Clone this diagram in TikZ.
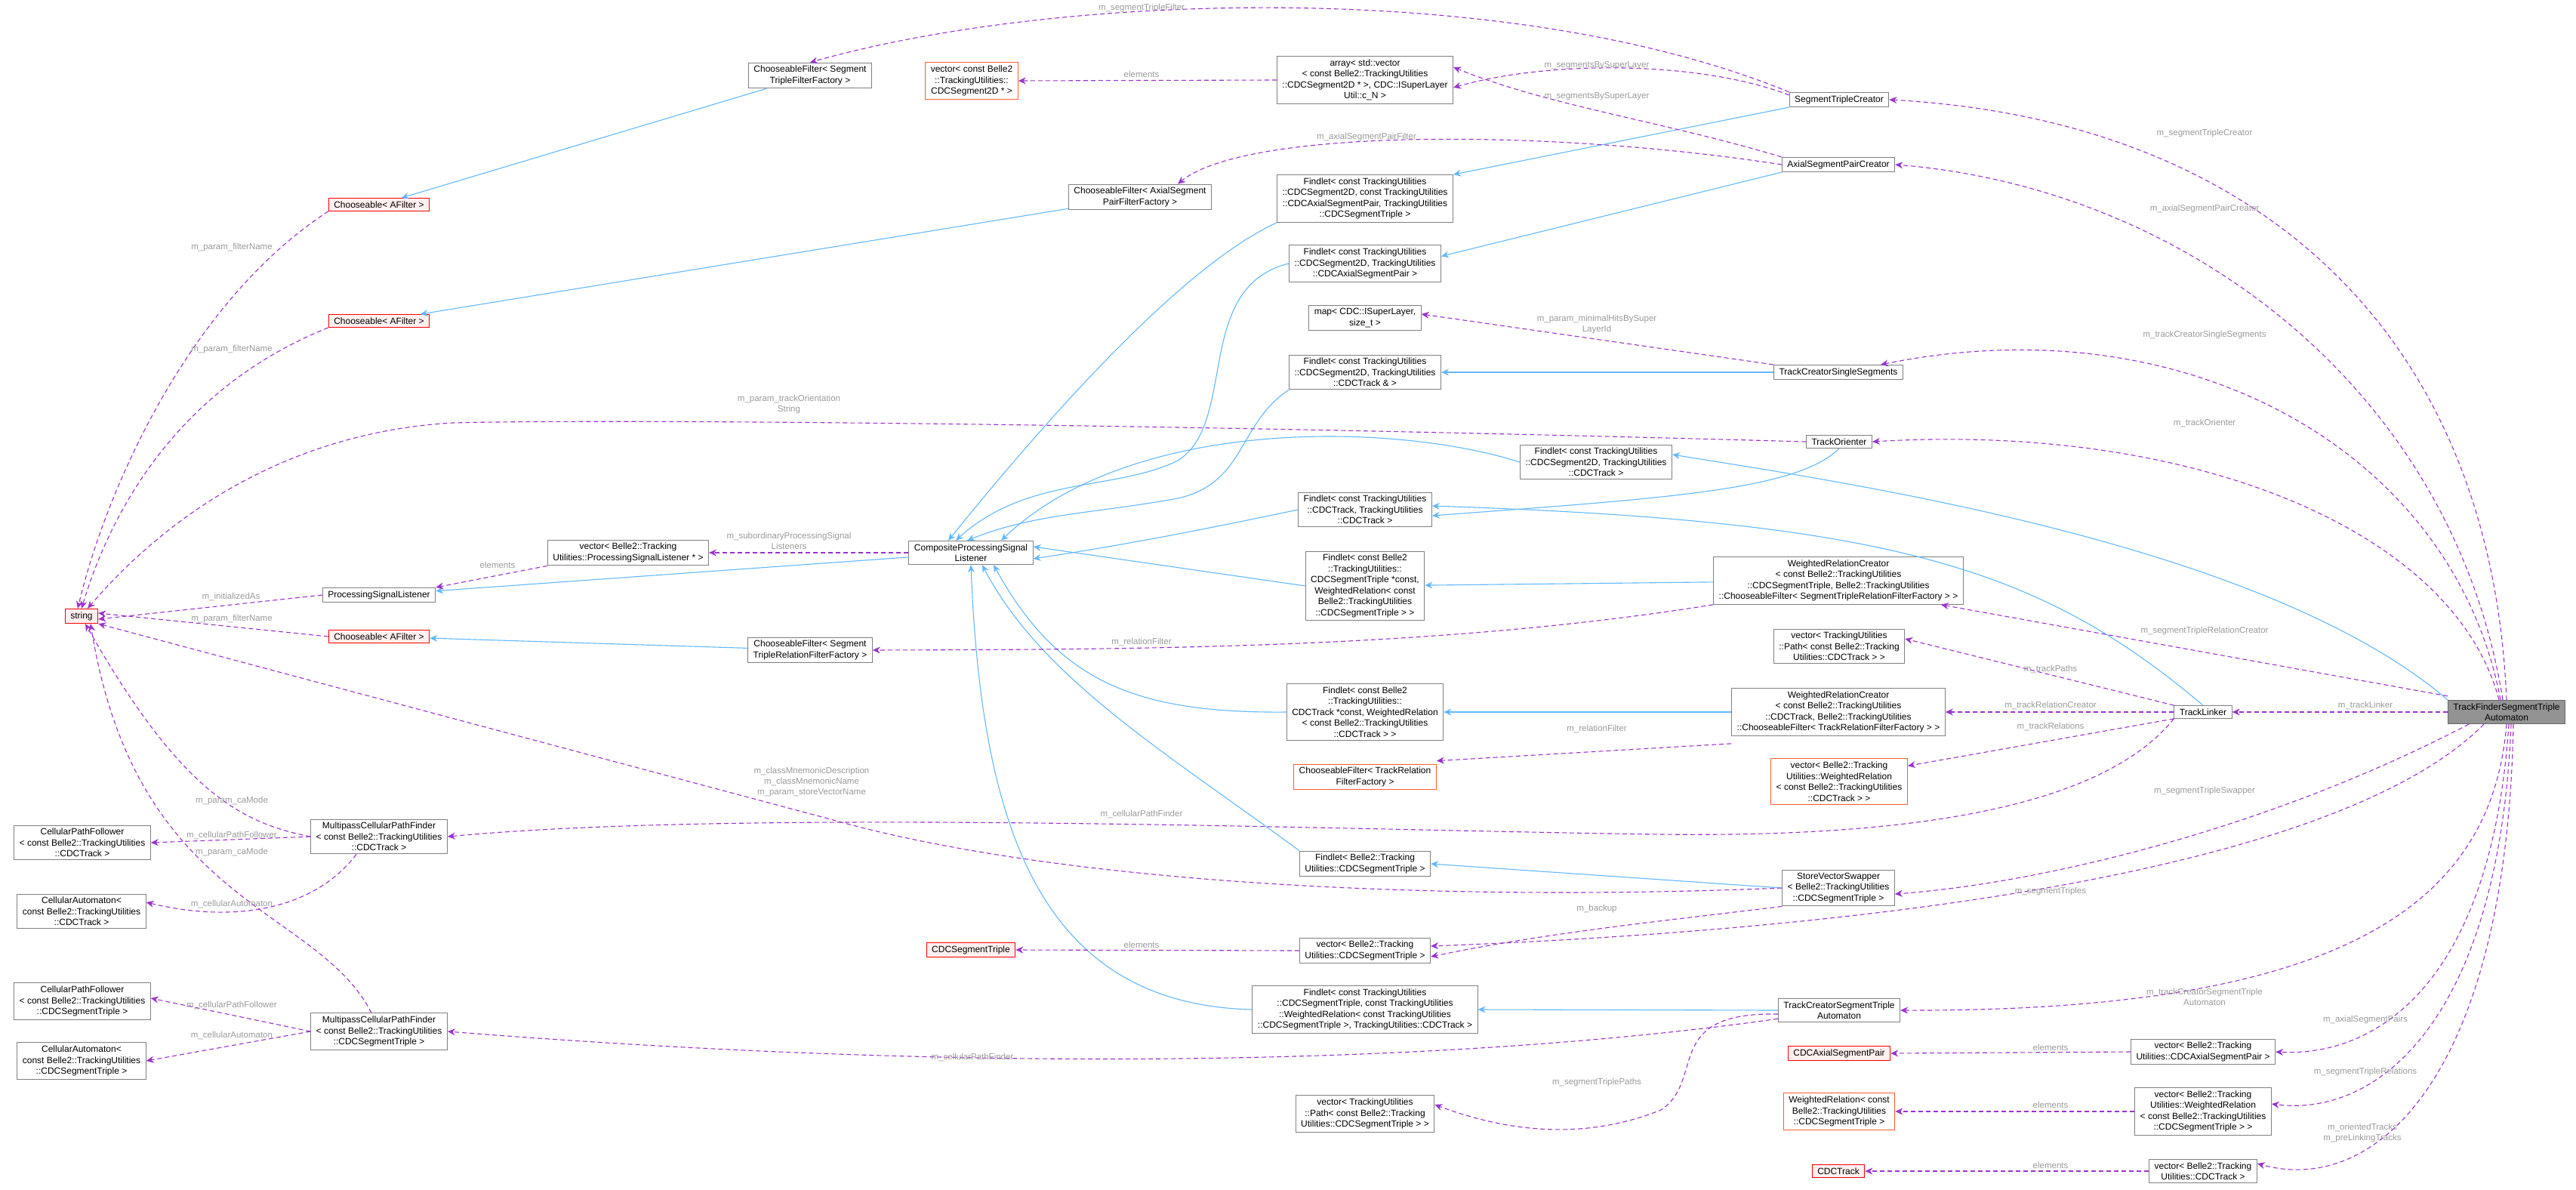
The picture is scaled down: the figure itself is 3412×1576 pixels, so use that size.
\documentclass[tikz,border=0pt]{standalone}
\usepackage{fontspec}
\setmainfont{Liberation Sans}
\usetikzlibrary{arrows.meta, positioning}
\definecolor{inhblue}{HTML}{63B8FF}
\definecolor{usepurple}{HTML}{9A32CD}
\definecolor{lblgray}{HTML}{9A9A9A}
\definecolor{boxgray}{HTML}{808080}
\definecolor{redfill}{HTML}{FFF0F0}
\definecolor{orangeline}{HTML}{FF5E2E}

\begin{document}
\begin{tikzpicture}[
    x=1pt, y=-1pt,
    klass/.style={rectangle, draw=boxgray, line width=1pt, fill=white, align=center,
        inner xsep=7pt, inner ysep=4pt, font=\fontsize{12}{14.5}\selectfont},
    missing/.style={klass, draw=red, fill=redfill},
    templ/.style={klass, draw=orangeline},
    mainklass/.style={klass, draw=boxgray!80!black, fill=boxgray!85},
    inherit/.style={draw=inhblue, line width=1.1pt, -{Stealth[length=10pt, width=9pt]}},
    member/.style={draw=usepurple, line width=1.1pt, dash pattern=on 6pt off 4pt,
        -{Stealth[length=10pt, width=9pt]}},
    label/.style={text=lblgray, align=center, inner sep=1pt,
        font=\fontsize{11.5}{14}\selectfont}
]
\useasboundingbox (0,0) rectangle (3412,1576);

% left column
\node (StringNode) [missing] at (108,816) {string};
\node (ChooseableA) [missing] at (502,271) {Chooseable< AFilter >};
\node (ChooseableB) [missing] at (502,425) {Chooseable< AFilter >};
\node (ChooseableC) [missing] at (502,843) {Chooseable< AFilter >};
\node (ProcListener) [klass] at (502,788) {ProcessingSignalListener};
\node (PathFollowerTrack) [klass] at (109,1116) {CellularPathFollower\\< const Belle2::TrackingUtilities\\::CDCTrack >};
\node (AutomatonTrack) [klass] at (108,1207) {CellularAutomaton<\\ const Belle2::TrackingUtilities\\::CDCTrack >};
\node (PathFinderTrack) [klass] at (502,1108) {MultipassCellularPathFinder\\< const Belle2::TrackingUtilities\\::CDCTrack >};
\node (PathFollowerTriple) [klass] at (109,1326) {CellularPathFollower\\< const Belle2::TrackingUtilities\\::CDCSegmentTriple >};
\node (AutomatonTriple) [klass] at (108,1405) {CellularAutomaton<\\ const Belle2::TrackingUtilities\\::CDCSegmentTriple >};
\node (PathFinderTriple) [klass] at (502,1366) {MultipassCellularPathFinder\\< const Belle2::TrackingUtilities\\::CDCSegmentTriple >};
\node (ListenerVector) [klass] at (832,732) {vector< Belle2::Tracking\\Utilities::ProcessingSignalListener * >};

% middle columns
\node (TripleFilter) [klass] at (1073,100) {ChooseableFilter< Segment\\TripleFilterFactory >};
\node (TripleRelFilter) [klass] at (1073,861) {ChooseableFilter< Segment\\TripleRelationFilterFactory >};
\node (SegmentVector) [templ] at (1287,107) {vector< const Belle2\\::TrackingUtilities::\\CDCSegment2D * >};
\node (PairFilter) [klass] at (1510,261) {ChooseableFilter< AxialSegment\\PairFilterFactory >};
\node (CompListener) [klass] at (1286,732) {CompositeProcessingSignal\\Listener};
\node (TripleNode) [missing] at (1286,1258) {CDCSegmentTriple};

\node (SegmentArray) [klass] at (1808,106) {array< std::vector\\< const Belle2::TrackingUtilities\\::CDCSegment2D * >, CDC::ISuperLayer\\Util::c\_N >};
\node (FindletTriple) [klass] at (1808,263) {Findlet< const TrackingUtilities\\::CDCSegment2D, const TrackingUtilities\\::CDCAxialSegmentPair, TrackingUtilities\\::CDCSegmentTriple >};
\node (FindletPair) [klass] at (1808,349) {Findlet< const TrackingUtilities\\::CDCSegment2D, TrackingUtilities\\::CDCAxialSegmentPair >};
\node (HitsMap) [klass] at (1808,421) {map< CDC::ISuperLayer,\\size\_t >};
\node (FindletSingle) [klass] at (1808,493) {Findlet< const TrackingUtilities\\::CDCSegment2D, TrackingUtilities\\::CDCTrack \& >};
\node (FindletAll) [klass] at (2114,612) {Findlet< const TrackingUtilities\\::CDCSegment2D, TrackingUtilities\\::CDCTrack >};
\node (FindletTrack) [klass] at (1808,675) {Findlet< const TrackingUtilities\\::CDCTrack, TrackingUtilities\\::CDCTrack >};
\node (FindletTripleRel) [klass] at (1808,776) {Findlet< const Belle2\\::TrackingUtilities::\\CDCSegmentTriple *const,\\WeightedRelation< const\\Belle2::TrackingUtilities\\::CDCSegmentTriple > >};
\node (FindletTrackRel) [klass] at (1808,943) {Findlet< const Belle2\\::TrackingUtilities::\\CDCTrack *const, WeightedRelation\\< const Belle2::TrackingUtilities\\::CDCTrack > >};
\node (TrackRelFilter) [templ] at (1808,1029) {ChooseableFilter< TrackRelation\\FilterFactory >};
\node (FindletSwap) [klass] at (1808,1144) {Findlet< Belle2::Tracking\\Utilities::CDCSegmentTriple >};
\node (TripleVector) [klass] at (1808,1259) {vector< Belle2::Tracking\\Utilities::CDCSegmentTriple >};
\node (FindletAutomaton) [klass] at (1808,1337) {Findlet< const TrackingUtilities\\::CDCSegmentTriple, const TrackingUtilities\\::WeightedRelation< const TrackingUtilities\\::CDCSegmentTriple >, TrackingUtilities::CDCTrack >};
\node (TriplePathVector) [klass] at (1808,1475) {vector< TrackingUtilities\\::Path< const Belle2::Tracking\\Utilities::CDCSegmentTriple > >};

% right columns
\node (TripleCreator) [klass] at (2436,132) {SegmentTripleCreator};
\node (PairCreator) [klass] at (2435,218) {AxialSegmentPairCreator};
\node (SingleCreator) [klass] at (2435,493) {TrackCreatorSingleSegments};
\node (Orienter) [klass] at (2436,585) {TrackOrienter};
\node (TripleRelCreator) [klass] at (2435,769) {WeightedRelationCreator\\< const Belle2::TrackingUtilities\\::CDCSegmentTriple, Belle2::TrackingUtilities\\::ChooseableFilter< SegmentTripleRelationFilterFactory > >};
\node (TrackPathVector) [klass] at (2436,856) {vector< TrackingUtilities\\::Path< const Belle2::Tracking\\Utilities::CDCTrack > >};
\node (TrackRelCreator) [klass] at (2435,943) {WeightedRelationCreator\\< const Belle2::TrackingUtilities\\::CDCTrack, Belle2::TrackingUtilities\\::ChooseableFilter< TrackRelationFilterFactory > >};
\node (TrackRelVector) [templ] at (2436,1035) {vector< Belle2::Tracking\\Utilities::WeightedRelation\\< const Belle2::TrackingUtilities\\::CDCTrack > >};
\node (Swapper) [klass] at (2435,1176) {StoreVectorSwapper\\< Belle2::TrackingUtilities\\::CDCSegmentTriple >};
\node (AutomatonCreator) [klass] at (2436,1338) {TrackCreatorSegmentTriple\\Automaton};
\node (PairNode) [missing] at (2436,1395) {CDCAxialSegmentPair};
\node (TripleRelNode) [templ] at (2436,1472) {WeightedRelation< const\\Belle2::TrackingUtilities\\::CDCSegmentTriple >};
\node (TrackNode) [missing] at (2435,1551) {CDCTrack};
\node (Linker) [klass] at (2918,943) {TrackLinker};
\node (PairVector) [klass] at (2918,1393) {vector< Belle2::Tracking\\Utilities::CDCAxialSegmentPair >};
\node (TripleRelVector) [klass] at (2918,1472) {vector< Belle2::Tracking\\Utilities::WeightedRelation\\< const Belle2::TrackingUtilities\\::CDCSegmentTriple > >};
\node (TrackVector) [klass] at (2918,1551) {vector< Belle2::Tracking\\Utilities::CDCTrack >};
\node (Automaton) [mainklass] at (3320,943) {TrackFinderSegmentTriple\\Automaton};

% inheritance
\draw[inherit] (TripleFilter) -- (ChooseableA);
\draw[inherit] (PairFilter) -- (ChooseableB);
\draw[inherit] (TripleRelFilter) -- (ChooseableC);
\draw[inherit] (CompListener) -- (ProcListener);
\draw[inherit] (FindletTriple.south west) .. controls (1550,360) and (1350,600) .. ([xshift=-30]CompListener.north);
\draw[inherit] (FindletPair.west) .. controls (1580,380) and (1640,560) .. (1560,610) .. controls (1480,650) and (1360,630) .. ([xshift=-20]CompListener.north);
\draw[inherit] (FindletSingle.south west) .. controls (1640,560) and (1650,640) .. (1560,660) .. controls (1450,680) and (1370,680) .. ([xshift=-5]CompListener.north);
\draw[inherit] (FindletAll.west) .. controls (1850,560) and (1500,550) .. ([xshift=40]CompListener.north);
\draw[inherit] (FindletTrack.west) .. controls (1600,700) and (1500,720) .. ([yshift=-8]CompListener.east);
\draw[inherit] (FindletTripleRel.west) -- ([yshift=8]CompListener.east);
\draw[inherit] (FindletTrackRel.west) .. controls (1500,945) and (1400,900) .. ([xshift=30]CompListener.south);
\draw[inherit] (FindletSwap.north west) .. controls (1550,1000) and (1380,900) .. ([xshift=15]CompListener.south);
\draw[inherit] (FindletAutomaton.west) .. controls (1380,1330) and (1300,1100) .. (CompListener.south);
\draw[inherit] (TripleCreator.south west) -- (FindletTriple.north east);
\draw[inherit] (PairCreator.south west) -- ([yshift=-15]FindletPair.north east);
\draw[inherit] (SingleCreator) -- (FindletSingle);
\draw[inherit] (Orienter.south) .. controls (2380,650) and (2200,660) .. ([yshift=-8]FindletTrack.east);
\draw[inherit] (Linker.north) .. controls (2700,750) and (2500,690) .. ([yshift=5]FindletTrack.east);
\draw[inherit] (Automaton.north west) .. controls (3000,720) and (2450,640) .. ([yshift=10]FindletAll.east);
\draw[inherit] (TripleRelCreator) -- (FindletTripleRel);
\draw[inherit] (TrackRelCreator) -- (FindletTrackRel);
\draw[inherit] (Swapper.west) -- (FindletSwap.east);
\draw[inherit] (AutomatonCreator.west) -- (FindletAutomaton.east);

% members
\draw[member] (TripleCreator.north west) .. controls (2000,-30) and (1400,-10) .. (TripleFilter.north);
\draw[member] ([yshift=-4]TripleCreator.north west) .. controls (2250,80) and (2050,80) .. ([yshift=-10]SegmentArray.east);
\draw[member] (PairCreator.north west) .. controls (2200,160) and (2050,140) .. ([yshift=17]SegmentArray.east);
\draw[member] (PairCreator.west) .. controls (2050,170) and (1650,170) .. ([xshift=50]PairFilter.north);
\draw[member] (SegmentArray.west) -- (SegmentVector.east);
\draw[member] (SingleCreator.north west) -- ([yshift=5]HitsMap.east);
\draw[member] (Orienter.west) .. controls (1500,560) and (800,555) .. (600,560) .. controls (420,570) and (250,650) .. ([xshift=8]StringNode.north);
\draw[member] (ChooseableA.south west) .. controls (250,400) and (140,650) .. ([xshift=-5]StringNode.north);
\draw[member] (ChooseableB.south west) .. controls (220,520) and (140,700) .. (StringNode.north);
\draw[member] (ChooseableC.west) -- ([yshift=4]StringNode.east);
\draw[member] (ProcListener.west) -- ([yshift=-4]StringNode.east);
\draw[member] (ListenerVector.south west) -- (ProcListener.north east);
\draw[member] (CompListener.west) -- (ListenerVector.east);
\draw[member] (TripleRelCreator.south west) .. controls (1900,860) and (1500,860) .. (TripleRelFilter.east);
\draw[member] ([yshift=-10]TrackRelCreator.south west) -- ([yshift=4]TrackRelFilter.north east);
\draw[member] (Swapper.west) .. controls (1900,1195) and (1400,1170) .. (1100,1085) -- (StringNode.south east);
\draw[member] (Swapper.south west) .. controls (2200,1220) and (2050,1235) .. ([yshift=-8]TripleVector.east);
\draw[member] (TripleVector.west) -- (TripleNode.east);
\draw[member] (Linker.south west) .. controls (2800,1050) and (2600,1110) .. (2200,1105) .. controls (1800,1100) and (1000,1070) .. (PathFinderTrack.east);
\draw[member] (PathFinderTrack.west) .. controls (320,1090) and (240,1050) .. ([xshift=5]StringNode.south);
\draw[member] (PathFinderTrack.west) -- (PathFollowerTrack.east);
\draw[member] ([xshift=-30]PathFinderTrack.south) .. controls (420,1200) and (320,1225) .. ([yshift=12]AutomatonTrack.east);
\draw[member] ([xshift=-10]PathFinderTriple.north) .. controls (420,1200) and (180,1200) .. ([xshift=12]StringNode.south);
\draw[member] (PathFinderTriple.west) -- ([yshift=4]PathFollowerTriple.east);
\draw[member] (PathFinderTriple.west) -- (AutomatonTriple.east);
\draw[member] ([yshift=5]AutomatonCreator.south west) .. controls (2000,1400) and (1400,1430) .. (PathFinderTriple.east);
\draw[member] ([yshift=-5]AutomatonCreator.west) .. controls (2200,1340) and (2260,1430) .. (2200,1470) .. controls (2100,1510) and (2000,1500) .. ([yshift=12]TriplePathVector.east);
\draw[member] (Linker.north west) -- ([yshift=10]TrackPathVector.east);
\draw[member] (Linker.west) -- (TrackRelCreator.east);
\draw[member] (Linker.south west) -- ([yshift=-10]TrackRelVector.north east);
\draw[member] (PairVector.west) -- (PairNode.east);
\draw[member] (TripleRelVector.west) -- (TripleRelNode.east);
\draw[member] (TrackVector.west) -- (TrackNode.east);
\draw[member] (Automaton.north) .. controls (3300,450) and (3000,160) .. (TripleCreator.east);
\draw[member] ([xshift=-5]Automaton.north) .. controls (3250,520) and (2900,250) .. (PairCreator.east);
\draw[member] ([xshift=-8]Automaton.north) .. controls (3250,600) and (2900,400) .. ([xshift=-30]SingleCreator.north east);
\draw[member] ([xshift=-10]Automaton.north) .. controls (3250,700) and (2900,560) .. (Orienter.east);
\draw[member] ([yshift=5]Automaton.north west) -- ([xshift=-30]TripleRelCreator.south east);
\draw[member] (Automaton.west) -- (Linker.east);
\draw[member] ([xshift=-50]Automaton.south) .. controls (3000,1100) and (2700,1170) .. ([yshift=-8]Swapper.east);
\draw[member] ([xshift=-30]Automaton.south) .. controls (3100,1150) and (2500,1230) .. ([yshift=6]TripleVector.east);
\draw[member] (Automaton.south) .. controls (3300,1200) and (3100,1340) .. (AutomatonCreator.east);
\draw[member] ([xshift=3]Automaton.south) .. controls (3300,1300) and (3150,1400) .. (PairVector.east);
\draw[member] ([xshift=6]Automaton.south) .. controls (3310,1350) and (3150,1480) .. ([yshift=10]TripleRelVector.east);
\draw[member] ([xshift=9]Automaton.south) .. controls (3320,1420) and (3150,1585) .. ([yshift=10]TrackVector.east);

% labels
\node[label] at (1512,11) {m\_segmentTripleFilter};
\node[label] at (1512,98) {elements};
\node[label] at (2115,87) {m\_segmentsBySuperLayer};
\node[label] at (2115,128) {m\_segmentsBySuperLayer};
\node[label] at (1810,182) {m\_axialSegmentPairFilter};
\node[label] at (2115,430) {m\_param\_minimalHitsBySuper\\LayerId};
\node[label] at (1045,536) {m\_param\_trackOrientation\\String};
\node[label] at (307,328) {m\_param\_filterName};
\node[label] at (307,463) {m\_param\_filterName};
\node[label] at (307,820) {m\_param\_filterName};
\node[label] at (306,790) {m\_initializedAs};
\node[label] at (659,748) {elements};
\node[label] at (1045,716) {m\_subordinaryProcessingSignal\\Listeners};
\node[label] at (1512,850) {m\_relationFilter};
\node[label] at (2115,965) {m\_relationFilter};
\node[label] at (1075,1036) {m\_classMnemonicDescription\\m\_classMnemonicName\\m\_param\_storeVectorName};
\node[label] at (1512,1078) {m\_cellularPathFinder};
\node[label] at (2115,1204) {m\_backup};
\node[label] at (1512,1251) {elements};
\node[label] at (1288,1400) {m\_cellularPathFinder};
\node[label] at (2115,1434) {m\_segmentTriplePaths};
\node[label] at (307,1061) {m\_param\_caMode};
\node[label] at (307,1106) {m\_cellularPathFollower};
\node[label] at (307,1129) {m\_param\_caMode};
\node[label] at (307,1197) {m\_cellularAutomaton};
\node[label] at (307,1331) {m\_cellularPathFollower};
\node[label] at (307,1371) {m\_cellularAutomaton};
\node[label] at (2920,177) {m\_segmentTripleCreator};
\node[label] at (2920,277) {m\_axialSegmentPairCreator};
\node[label] at (2920,444) {m\_trackCreatorSingleSegments};
\node[label] at (2920,560) {m\_trackOrienter};
\node[label] at (2920,836) {m\_segmentTripleRelationCreator};
\node[label] at (2716,886) {m\_trackPaths};
\node[label] at (2716,934) {m\_trackRelationCreator};
\node[label] at (3133,934) {m\_trackLinker};
\node[label] at (2716,962) {m\_trackRelations};
\node[label] at (2920,1048) {m\_segmentTripleSwapper};
\node[label] at (2716,1181) {m\_segmentTriples};
\node[label] at (2920,1320) {m\_trackCreatorSegmentTriple\\Automaton};
\node[label] at (3133,1351) {m\_axialSegmentPairs};
\node[label] at (2716,1387) {elements};
\node[label] at (3133,1420) {m\_segmentTripleRelations};
\node[label] at (2716,1463) {elements};
\node[label] at (3129,1501) {m\_orientedTracks\\m\_preLinkingTracks};
\node[label] at (2716,1543) {elements};
\end{tikzpicture}
\end{document}
